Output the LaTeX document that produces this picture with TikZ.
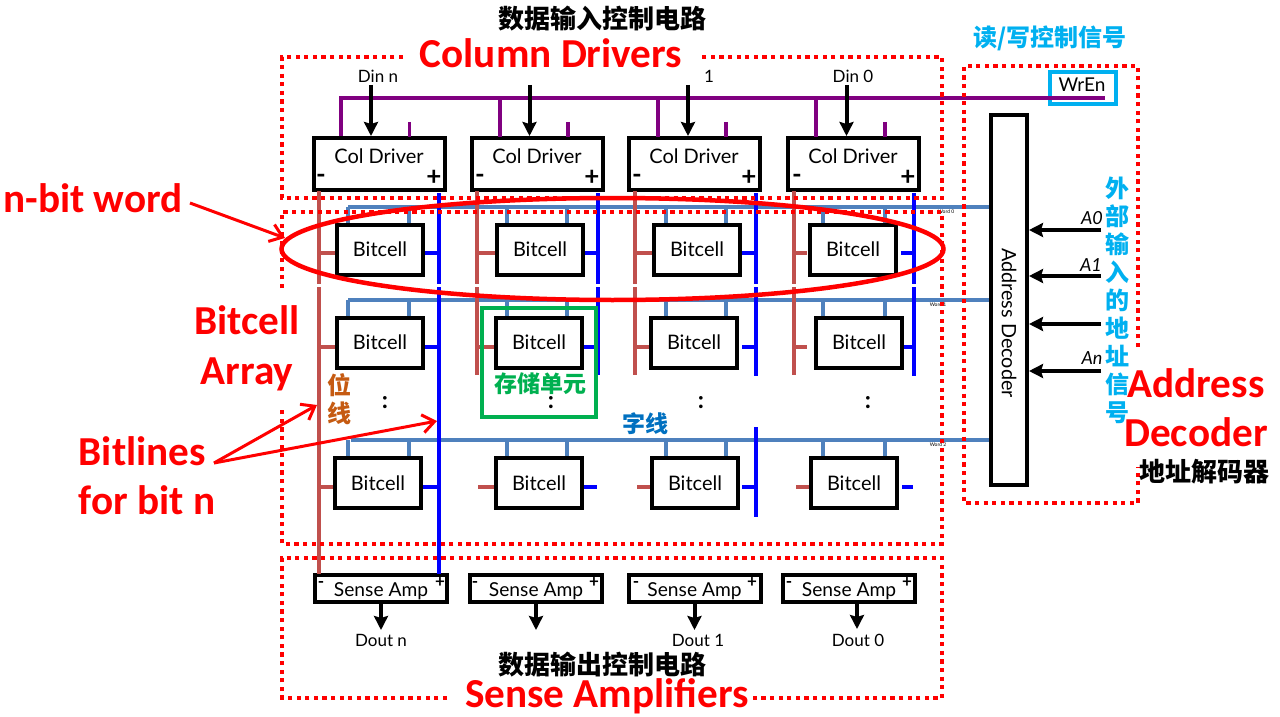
\documentclass[tikz,border=0pt]{standalone}
\usepackage{fontspec}
\setmainfont{Lato}
\newfontfamily\cjk{Noto Sans CJK SC}
\newfontfamily\cali{Carlito}
\usepackage{tikz}
\usetikzlibrary{arrows.meta,positioning}
\definecolor{wordblue}{RGB}{79,129,189}
\definecolor{bitbrown}{RGB}{192,80,77}
\definecolor{wenpurple}{RGB}{128,0,128}
\definecolor{signalcyan}{RGB}{0,176,240}
\definecolor{cellgreen}{RGB}{0,176,80}
\definecolor{lineorange}{RGB}{197,90,17}
\definecolor{lineblue}{RGB}{0,112,192}
\tikzset{
  driverbox/.style={rectangle, draw=black, line width=2pt, fill=white, inner sep=0pt, align=center, font=\fontsize{10}{11}\selectfont},
  cellbox/.style={driverbox, minimum width=43pt, minimum height=25pt},
  colbox/.style={driverbox, minimum width=65.5pt, minimum height=25.5pt, text height=7pt, text depth=7.4pt},
  ampbox/.style={driverbox, minimum width=66pt, minimum height=13.5pt, text height=8.5pt, text depth=0.5pt, font=\fontsize{9.6}{11}\selectfont},
  redtitle/.style={text=red, inner sep=0pt, font=\fontsize{20.6}{24.5}\selectfont\cali\bfseries, align=center},
  cntitle/.style={text=black, inner sep=0pt, font=\fontsize{13}{15}\selectfont\cjk\bfseries},
  cnlabel/.style={inner sep=0pt, font=\fontsize{12}{14}\selectfont\cjk\bfseries},
  small/.style={inner sep=0pt, font=\fontsize{8.5}{10}\selectfont},
  addr/.style={inner sep=0pt, font=\fontsize{9}{10}\selectfont\itshape},
  colpin/.style={inner sep=0pt, font=\fontsize{13}{13}\selectfont\bfseries},
  amppin/.style={inner sep=0pt, font=\fontsize{8.5}{9}\selectfont\bfseries},
  dotmark/.style={inner sep=0pt, font=\fontsize{12}{12}\selectfont\bfseries},
  wordtag/.style={inner sep=0pt, font=\fontsize{2.5}{3}\selectfont},
  frame/.style={red, line width=2.1pt, dash pattern=on 2.1pt off 2.2pt},
  wordwire/.style={wordblue, line width=1.75pt},
  bitwire/.style={bitbrown, line width=2pt},
  barwire/.style={blue, line width=2pt},
  wenwire/.style={wenpurple, line width=1.75pt},
  flow/.style={-{Stealth[length=7pt,width=7pt,inset=1pt]}, black, line width=2pt},
  callout/.style={-{Straight Barb[length=6pt,width=9pt]}, red, line width=1.5pt}
}
\begin{document}
\begin{tikzpicture}[x=0.5pt,y=-0.5pt]
\useasboundingbox (0,0) rectangle (1280,717);

% column drivers
\node[colbox] (col1) at (379,164) {Col Driver};
\node[colbox] (col2) at (537,164) {Col Driver};
\node[colbox] (col3) at (694,164) {Col Driver};
\node[colbox] (col4) at (853,164) {Col Driver};

% bitcells
\node[cellbox] (c11) at (380,249.5) {Bitcell};
\node[cellbox] (c12) at (540,249.5) {Bitcell};
\node[cellbox] (c13) at (697,249.5) {Bitcell};
\node[cellbox] (c14) at (853,249.5) {Bitcell};
\node[cellbox] (c21) at (380,342.5) {Bitcell};
\node[cellbox] (c22) at (539,342.5) {Bitcell};
\node[cellbox] (c23) at (694,342.5) {Bitcell};
\node[cellbox] (c24) at (859,342.5) {Bitcell};
\node[cellbox] (c31) at (378,483) {Bitcell};
\node[cellbox] (c32) at (539,483) {Bitcell};
\node[cellbox] (c33) at (695,483) {Bitcell};
\node[cellbox] (c34) at (854,483) {Bitcell};

% sense amps
\node[ampbox] (amp1) at (381,588.5) {Sense Amp};
\node[ampbox] (amp2) at (536,588.5) {Sense Amp};
\node[ampbox] (amp3) at (694.5,588.5) {Sense Amp};
\node[ampbox] (amp4) at (849,588.5) {Sense Amp};

% address side
\node[driverbox, minimum width=18pt, minimum height=185pt] (dec) at (1009,300) {};
\node[rotate=-90, inner sep=0pt, font=\fontsize{9.9}{11}\selectfont] (declabel) at (1009,323) {Address Decoder};
\node[draw=signalcyan, line width=2pt, minimum width=33pt, minimum height=16pt, inner sep=0pt] (wren) at (1083,88.5) {};
\node[small, font=\fontsize{9.5}{11}\selectfont] (wrentext) at (1082,85) {WrEn};

% purple write enable bus
\coordinate (wenl) at (341,98);
\coordinate (wenr) at (1105,98);
\draw[wenwire] (col1.north -| wenl) -- (wenl) -- (wenr);
\draw[wenwire] (500,98) -- (500,137);
\draw[wenwire] (658,98) -- (658,137);
\draw[wenwire] (816,98) -- (816,137);
\draw[wenwire] (409.5,122) -- (409.5,137);
\draw[wenwire] (568,122) -- (568,137);
\draw[wenwire] (726,122) -- (726,137);
\draw[wenwire] (885,122) -- (885,137);

% word lines
\coordinate (w1) at (348,207);
\coordinate (w2) at (348,300);
\coordinate (w3) at (351,440);
\draw[wordwire] (w1) -- (dec.west |- w1);
\draw[wordwire] (w2) -- (dec.west |- w2);
\draw[wordwire] (w3) -- (dec.west |- w3);
\foreach \sx in {348,409,507,567,666,726,823,885} {
  \draw[wordwire] (\sx,207) -- (\sx,223);
  \draw[wordwire] (\sx,300) -- (\sx,316);
  \draw[wordwire] (\sx,440) -- (\sx,456);
}
\node[wordtag] (tag1) at (946,212) {Word 0};
\node[wordtag] (tag2) at (938,305) {Word 1};
\node[wordtag] (tag3) at (938,445) {Word 2};

% bit lines
\draw[bitwire] (319,191) -- (319,284) (319,287) -- (319,574);
\draw[bitwire] (477,191) -- (477,284) (477,287) -- (477,375);
\draw[bitwire] (635,191) -- (635,284) (635,287) -- (635,375);
\draw[bitwire] (794,191) -- (794,284) (794,287) -- (794,375);
\draw[barwire] (439,193) -- (439,284) (439,287) -- (439,574);
\draw[barwire] (598,193) -- (598,284) (598,287) -- (598,375);
\draw[barwire] (756,193) -- (756,284) (756,287) -- (756,376);
\draw[barwire] (914,193) -- (914,284) (914,287) -- (914,376);
\draw[barwire] (756,427) -- (756,517);

% cell stubs
\draw[bitwire] (319,253) -- (c11.west |- 0,253);
\draw[bitwire] (477,253) -- (c12.west |- 0,253);
\draw[bitwire] (635,253) -- (c13.west |- 0,253);
\draw[bitwire] (794,253) -- (807,253);
\draw[barwire] (c11.east |- 0,253) -- (439,253);
\draw[barwire] (c12.east |- 0,253) -- (598,253);
\draw[barwire] (c13.east |- 0,253) -- (756,253);
\draw[barwire] (901,253) -- (914,253);
\draw[bitwire] (319,347) -- (c21.west |- 0,347);
\draw[bitwire] (477,347) -- (c22.west |- 0,347);
\draw[bitwire] (635,347) -- (c23.west |- 0,347);
\draw[bitwire] (794,347) -- (807,347);
\draw[barwire] (c21.east |- 0,347) -- (439,347);
\draw[barwire] (c22.east |- 0,347) -- (598,347);
\draw[barwire] (742,347) -- (756,347);
\draw[barwire] (c24.east |- 0,347) -- (914,347);
\draw[bitwire] (319,487) -- (c31.west |- 0,487);
\draw[bitwire] (478,487) -- (c32.west |- 0,487);
\draw[bitwire] (637,487) -- (c33.west |- 0,487);
\draw[bitwire] (796,487) -- (c34.west |- 0,487);
\draw[barwire] (c31.east |- 0,487) -- (439,487);
\draw[barwire] (c32.east |- 0,487) -- (597,487);
\draw[barwire] (742,487) -- (756,487);
\draw[barwire] (902,487) -- (913,487);

% dotted frames
\draw[frame] (403,57) -- (282,57) -- (282,198) -- (942,198) -- (942,57) -- (698,57);
\draw[frame] (282,288) -- (282,212) -- (942,212) -- (942,544) -- (282,544) -- (282,408);
\draw[frame] (447,698) -- (282,698) -- (282,558) -- (942,558) -- (942,698) -- (752,698);
\draw[frame] (1138,347) -- (1138,66) -- (964,66) -- (964,503) -- (1138,503) -- (1138,467);

% plus and minus marks
\node[colpin] (m1) at (321,179) {-}; \node[colpin] (p1) at (434,178) {+};
\node[colpin] (m2) at (480,179) {-}; \node[colpin] (p2) at (592,178) {+};
\node[colpin] (m3) at (637,179) {-}; \node[colpin] (p3) at (749,178) {+};
\node[colpin] (m4) at (797,179) {-}; \node[colpin] (p4) at (908,178) {+};
\node[amppin] (m5) at (321,584) {-}; \node[amppin] (p5) at (440,583) {+};
\node[amppin] (m6) at (475,584) {-}; \node[amppin] (p6) at (594,583) {+};
\node[amppin] (m7) at (636,584) {-}; \node[amppin] (p7) at (752,583) {+};
\node[amppin] (m8) at (789,584) {-}; \node[amppin] (p8) at (907,583) {+};

% data in and data out
\node[small] (dinn) at (378,76) {Din n};
\node[small] (din1) at (709,76) {1};
\node[small] (din0) at (853,76) {Din 0};
\draw[flow] (371,85) -- (371,136);
\draw[flow] (529.5,85) -- (529.5,136);
\draw[flow] (688,85) -- (688,136);
\draw[flow] (846.5,85) -- (846.5,136);
\node[small] (doutn) at (381,640) {Dout n};
\node[small] (dout1) at (698,640) {Dout 1};
\node[small] (dout0) at (858,640) {Dout 0};
\draw[flow] (amp1.south) -- ++(0,26);
\draw[flow] (amp2.south) -- ++(0,26);
\draw[flow] (amp3.south) -- ++(0,26);
\draw[flow] (857,603) -- ++(0,26);

% address inputs
\coordinate (a0) at (1101,230);
\coordinate (a1) at (1101,276);
\coordinate (a2) at (1101,324);
\coordinate (an) at (1101,371);
\draw[flow] (a0) -- (dec.east |- a0);
\draw[flow] (a1) -- (dec.east |- a1);
\draw[flow] (a2) -- (dec.east |- a2);
\draw[flow] (an) -- (dec.east |- an);
\node[addr] (a0text) at (1092,218) {A0};
\node[addr] (a1text) at (1091,265) {A1};
\node[addr] (antext) at (1092,358) {An};

% dots
\node[dotmark] (dots1) at (385,403) {:};
\node[dotmark] (dots2) at (551,403) {:};
\node[dotmark] (dots3) at (701,403) {:};
\node[dotmark] (dots4) at (868,403) {:};

% word and cell marks
\draw[red, line width=2.25pt] (612.5,249) ellipse [x radius=331, y radius=51];
\draw[cellgreen, line width=2pt] (482,308) rectangle (596,417);
\node[cnlabel, font=\fontsize{11.5}{13.5}\selectfont\cjk\bfseries, text=cellgreen] (cellcn) at (540,384) {存储单元};
\node[cnlabel, align=center, text=lineorange] (bitcn) at (339,399) {位\\线};
\node[cnlabel, font=\fontsize{11.5}{13.5}\selectfont\cjk\bfseries, text=lineblue] (wordcn) at (645,424) {字线};

% titles
\node[cntitle] (incn) at (602,19) {数据输入控制电路};
\node[redtitle] (coltitle) at (551,53) {Column Drivers};
\node[cntitle] (outcn) at (602,665) {数据输出控制电路};
\node[redtitle] (amptitle) at (607,696) {Sense Amplifiers};
\node[cnlabel, text=signalcyan] (wrcn) at (1050,38) {读/写控制信号};
\node[cnlabel, text=signalcyan, align=center] (addrcn) at (1117,300) {外\\部\\输\\入\\的\\地\\址\\信\\号};
\node[redtitle] (addrtitle) at (1196,408) {Address\\Decoder};
\node[cntitle] (deccn) at (1204,472) {地址解码器};
\node[redtitle] (wordtitle) at (93,198) {n-bit word};
\node[redtitle, font=\fontsize{20.6}{25}\selectfont\cali\bfseries] (arraytitle) at (247,348) {Bitcell\\Array};
\node[redtitle, align=left] (linetitle) at (147,476) {Bitlines\\for bit n};

% callouts
\coordinate (fork) at (214,463);
\draw[callout] (190,203) -- (285,238);
\draw[callout] (fork) -- (317,405);
\draw[callout] (fork) -- (437,421);
\end{tikzpicture}
\end{document}
